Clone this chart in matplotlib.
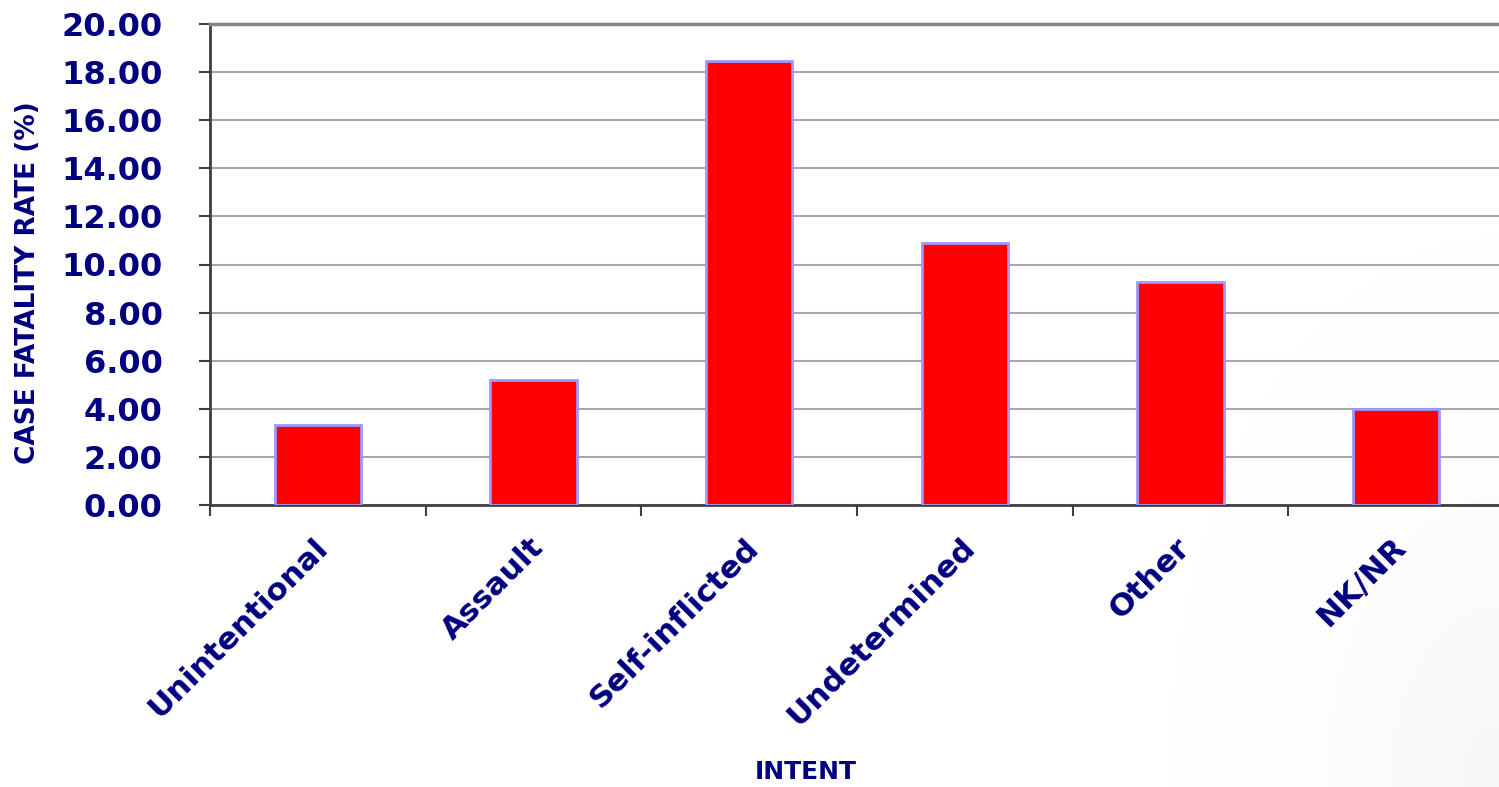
import numpy as np
import matplotlib
matplotlib.use("Agg")
import matplotlib.pyplot as plt
from matplotlib.transforms import ScaledTranslation

# Case fatality rate by intent
categories = ["Unintentional", "Assault", "Self-inflicted", "Undetermined", "Other", "NK/NR"]
rates = [3.33, 5.20, 18.46, 10.90, 9.28, 3.99]
y_ticks = [0, 2, 4, 6, 8, 10, 12, 14, 16, 18, 20]

NAVY = "#000080"
plt.rcParams["font.family"] = ["DejaVu Sans"]

W, H = 1499, 787
fig = plt.figure(figsize=(W / 100, H / 100), dpi=100)

# faint grey shading towards the lower right corner of the slide
bg = fig.add_axes([0, 0, 1, 1], zorder=-10)
xx, yy = np.meshgrid(np.arange(W), np.arange(H))
d = np.hypot((W - xx) * 1.0, (H - yy) * 0.6)
shade = 1 - 0.035 * np.clip(1 - d / 330.0, 0, 1) ** 2
bg.imshow(np.dstack([shade, shade, shade]), aspect="auto", extent=[0, 1, 0, 1],
          vmin=0, vmax=1, interpolation="bilinear")
bg.set_axis_off()

left_px, right_px, top_px, bottom_px = 210, 1504, 24, 505
ax = fig.add_axes([left_px / W, (H - bottom_px) / H,
                   (right_px - left_px) / W, (bottom_px - top_px) / H])
ax.patch.set_alpha(0)

x = np.arange(len(categories))
ax.bar(x, rates, width=0.4, color="#ff0000", edgecolor="#9999ff",
       linewidth=2, zorder=3)

ax.set_xlim(-0.5, len(categories) - 0.5)
ax.set_ylim(0, 20)

# gridlines
ax.set_yticks(y_ticks)
ax.set_yticklabels([f"{v:.2f}" for v in y_ticks])
ax.yaxis.grid(True, color="#a6a6a6", linewidth=1.5, zorder=0)
ax.set_axisbelow(True)

for side in ("left", "bottom"):
    ax.spines[side].set_color("#404040")
    ax.spines[side].set_linewidth(2)
ax.spines["top"].set_color("#858585")
ax.spines["top"].set_linewidth(2.5)
ax.spines["right"].set_visible(False)

ax.tick_params(axis="y", direction="out", length=8, width=1.5, color="#404040",
               pad=26, labelsize=23, labelcolor=NAVY)
for lab in ax.get_yticklabels():
    lab.set_fontweight("bold")

# category boundaries as minor ticks, labels at bar centres
ax.set_xticks(np.arange(-0.5, len(categories), 1.0), minor=True)
ax.set_xticks(x)
ax.set_xticklabels(categories, rotation=45, ha="right", va="top",
                   rotation_mode="anchor", fontsize=22.5, fontweight="bold",
                   color=NAVY)
ax.tick_params(axis="x", which="major", length=0, pad=20)
ax.tick_params(axis="x", which="minor", direction="out", length=8, width=1.5,
               color="#404040")
shift = ScaledTranslation(-5 / 100, 0, fig.dpi_scale_trans)
for lab in ax.get_xticklabels():
    lab.set_transform(lab.get_transform() + shift)

fig.text(28 / W, 1 - 283 / H, "CASE FATALITY RATE (%)", rotation=90,
         ha="center", va="center", fontsize=19, fontweight="bold", color=NAVY)
fig.text(806 / W, 1 - 772 / H, "INTENT", ha="center", va="center",
         fontsize=18, fontweight="bold", color=NAVY)

fig.savefig("out.png", dpi=100)
